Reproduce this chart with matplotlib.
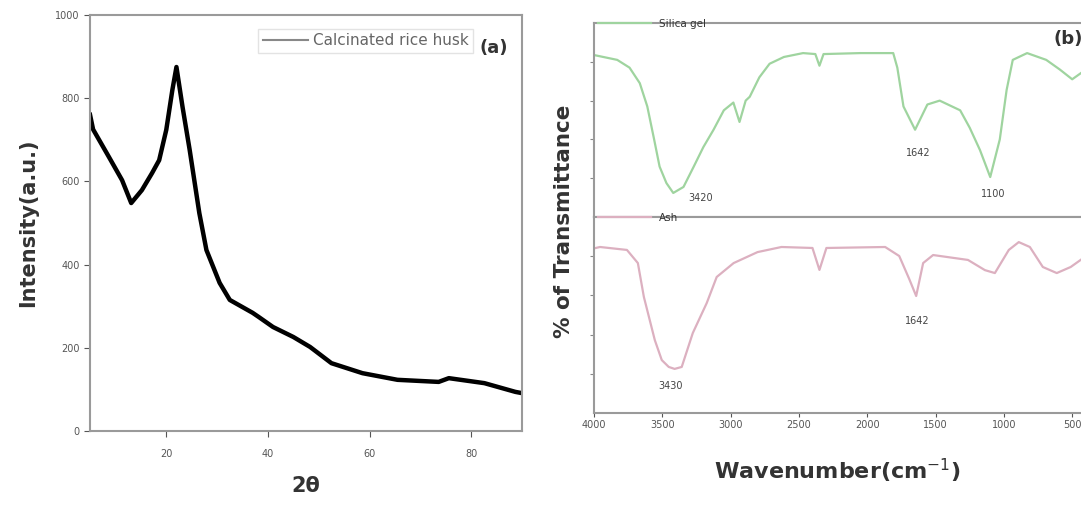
import matplotlib.pyplot as plt
import numpy as np

# ===== (a) XRD DATA =====
two_theta = [5.0, 5.6, 8.7, 11.3, 13.1, 15.2, 17.2, 18.6, 20.0, 21.2, 22.0, 23.2, 24.6,
             26.5, 27.9, 30.5, 32.5, 37.0, 38.2, 41.0, 45.0, 48.3, 52.5, 58.6, 65.5,
             73.6, 75.6, 82.6, 88.7, 90.0]
intensity = [760, 725, 659, 603, 548, 579, 620, 651, 724, 820, 875, 779, 676,
             524, 435, 356, 315, 284, 274, 250, 226, 202, 163, 139, 123,
             118, 127, 115, 94, 91]
xrd_xticks = [20, 40, 60, 80]
xrd_yticks = [0, 200, 400, 600, 800, 1000]

# ===== (b) FTIR DATA =====
wn_top = [4000, 3830, 3740, 3665, 3610, 3560, 3520, 3470, 3420, 3345, 3270, 3200, 3125,
          3050, 2980, 2935, 2890, 2860, 2790, 2715, 2610, 2470, 2380, 2350, 2320, 2050,
          1810, 1780, 1735, 1650, 1560, 1470, 1320, 1250, 1175, 1100, 1030, 980, 935,
          830, 690, 590, 500, 400]
tr_top = [83.5, 81, 77, 69, 57, 40, 26, 17.5, 12.4, 15.5, 26, 36, 45,
          55, 59, 49, 60, 62, 72, 79, 82.5, 84.5, 84, 78, 84, 84.5,
          84.5, 77, 57, 45, 58, 60, 55, 46, 34.5, 20.6, 40, 65.5, 81,
          84.5, 81, 76, 71, 76]

wn_bot = [4000, 3956, 3759, 3679, 3635, 3555, 3504, 3453, 3410, 3358, 3277, 3175, 3102,
          2978, 2803, 2628, 2401, 2350, 2299, 1869, 1766, 1693, 1642, 1591, 1518,
          1263, 1139, 1066, 964, 891, 810, 715, 613, 511, 400]
tr_bot = [84, 84.7, 83.2, 76.5, 59.2, 37.2, 27.0, 23.5, 22.5, 23.5, 40.8, 56.1, 69.4,
          76.5, 82.1, 84.7, 84.2, 73.0, 84.2, 84.7, 80.1, 68.4, 59.7, 76.5, 80.6,
          78.1, 72.9, 71.4, 83.2, 87.2, 84.7, 74.5, 71.4, 74.5, 80]
ftir_xticks = [4000, 3500, 3000, 2500, 2000, 1500, 1000, 500]

peaks_top = [(3310, 10, '3420'), (1628, 33, '1642'), (1080, 12, '1100')]
peaks_bot = [(3438, 14, '3430'), (1635, 47, '1642')]

SPINE = '#9a9a9a'
TXT = '#333333'

fig = plt.figure(figsize=(10.81, 5.14), dpi=100)

# ===== PANEL (a) =====
ax = fig.add_axes([0.0833, 0.1615, 0.3996, 0.8093])
ax.plot(two_theta, intensity, color='black', linewidth=3.2, label='Calcinated rice husk')
ax.set_xlim(5, 90)
ax.set_ylim(0, 1000)
ax.set_xticks(xrd_xticks)
ax.set_yticks(xrd_yticks)
ax.tick_params(axis='both', labelsize=7, colors='#555555', length=4)
ax.tick_params(axis='x', pad=9)
for s in ax.spines.values():
    s.set_color(SPINE)
    s.set_linewidth(1.5)
ax.set_xlabel('2θ', fontsize=15, fontweight='bold', color=TXT, labelpad=12)
ax.set_ylabel('Intensity(a.u.)', fontsize=15, fontweight='bold', color=TXT, labelpad=12)
leg = ax.legend(loc='upper right', bbox_to_anchor=(0.905, 0.985), fontsize=11, frameon=True,
                fancybox=False, edgecolor='#dddddd', handlelength=3, labelcolor='#666666',
                borderpad=0.3, handletextpad=0.3)
for h in leg.get_lines():
    h.set_linewidth(1.5)
    h.set_color('#888888')
ax.text(0.968, 0.92, '(a)', transform=ax.transAxes, ha='right', va='center',
        fontsize=13, fontweight='bold', color=TXT)

# ===== PANEL (b) =====
ax_t = fig.add_axes([0.5495, 0.5778, 0.455, 0.3774])
ax_b = fig.add_axes([0.5495, 0.1965, 0.455, 0.3813], sharex=ax_t)

ax_t.plot(wn_top, tr_top, color='#9fd49f', linewidth=1.6, label='Silica gel')
ax_b.plot(wn_bot, tr_bot, color='#dcb0c0', linewidth=1.6, label='Ash')

for a in (ax_t, ax_b):
    a.set_ylim(0, 100)
    a.set_yticks([20, 40, 60, 80])
    a.tick_params(axis='y', labelleft=False, length=3, colors='#888888')
    for s in a.spines.values():
        s.set_color(SPINE)
        s.set_linewidth(1.5)
    a.legend(loc='upper left', bbox_to_anchor=(-0.01, 1.07), fontsize=7.5, frameon=False,
             handlelength=5, labelcolor='#333333')

ax_t.set_xlim(4000, 400)
ax_b.set_xticks(ftir_xticks)
ax_t.tick_params(axis='x', labelbottom=False, length=0)
ax_b.tick_params(axis='x', labelsize=7, colors='#555555', length=3, pad=2)

for x, y, t in peaks_top:
    ax_t.text(x, y, t, fontsize=7, color='#444444', ha='left' if x > 3000 else 'center',
              va='center')
for x, y, t in peaks_bot:
    ax_b.text(x, y, t, fontsize=7, color='#444444', ha='center', va='center')

ax_t.text(640, 92, '(b)', fontsize=13, fontweight='bold', color=TXT, ha='left', va='center')

fig.text(0.5218, 0.57, '% of Transmittance', rotation=90, fontsize=15.5, fontweight='bold',
         color=TXT, ha='center', va='center')
fig.text(0.775, 0.084, 'Wavenumber(cm$^{-1}$)', fontsize=16, fontweight='bold',
         color=TXT, ha='center', va='center')

plt.savefig('out.png', dpi=100, facecolor='white')
